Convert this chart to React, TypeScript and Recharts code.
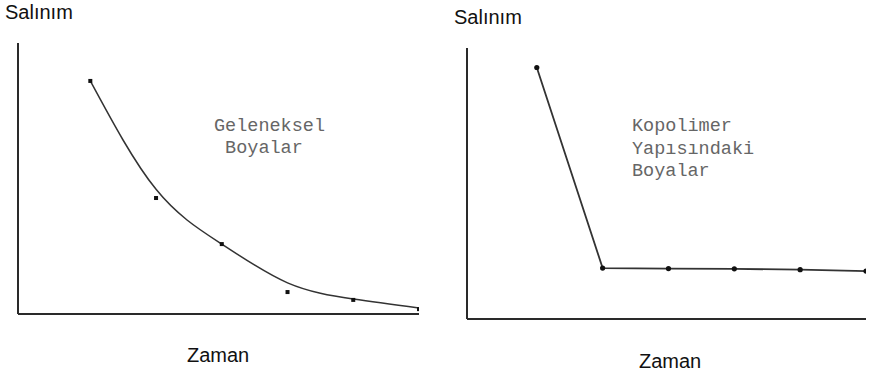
import React from 'react';
import { ComposedChart, Line, Scatter, XAxis, YAxis } from 'recharts';

// left panel: measured points and the hand-drawn fitted curve
const geleneksel_points = [
  { t: 1, v: 86 },
  { t: 2, v: 42.8 },
  { t: 3, v: 25.8 },
  { t: 4, v: 8.1 },
  { t: 5, v: 5.2 },
  { t: 6, v: 1.8 },
];
const geleneksel_curve = [
  { t: 1, v: 86 },
  { t: 2, v: 46 },
  { t: 3, v: 25.8 },
  { t: 4, v: 11.5 },
  { t: 5, v: 5.5 },
  { t: 6, v: 2.2 },
];

// right panel: copolymer dyes, sharp drop then plateau
const kopolimer_points = [
  { t: 1, v: 92.8 },
  { t: 2, v: 18.8 },
  { t: 3, v: 18.6 },
  { t: 4, v: 18.5 },
  { t: 5, v: 18.2 },
  { t: 6, v: 17.7 },
];

const yLabel = 'Salınım';
const xLabel = 'Zaman';
const leftNote = 'Geleneksel\n Boyalar';
const rightNote = 'Kopolimer\nYapısındaki\nBoyalar';

const ink = '#2a2a2a';
const sans = '"Liberation Sans", Arial, sans-serif';
const mono = '"Liberation Mono", "Courier New", monospace';

const SquareDot = (props: any) => {
  const { cx, cy } = props;
  if (cx == null || cy == null) return null;
  return <rect x={cx - 2} y={cy - 2} width={4} height={4} fill="#111" />;
};

const RoundDot = (props: any) => {
  const { cx, cy } = props;
  if (cx == null || cy == null) return null;
  return <circle cx={cx} cy={cy} r={2.6} fill="#111" />;
};

const axisLine = { stroke: ink, strokeWidth: 2 };

const txt = (left: number, top: number, size: number, family: string, color: string, lh: number): React.CSSProperties => ({
  position: 'absolute',
  left,
  top,
  fontSize: size,
  fontFamily: family,
  color,
  lineHeight: `${lh}px`,
  whiteSpace: 'pre',
});

export default function App() {
  return (
    <div style={{ position: 'absolute', left: 0, top: 0, width: 871, height: 376, background: '#fff', overflow: 'hidden' }}>
      <div style={{ position: 'absolute', left: 0, top: 0 }}>
        <ComposedChart width={440} height={376} margin={{ top: 43, right: 21, bottom: 61, left: 17 }}>
          <XAxis type="number" dataKey="t" domain={[-0.1, 6]} height={1} tick={false} tickLine={false} axisLine={axisLine} allowDataOverflow />
          <YAxis type="number" dataKey="v" domain={[0, 100]} width={1} tick={false} tickLine={false} axisLine={axisLine} allowDataOverflow />
          <Line data={geleneksel_curve} dataKey="v" type="natural" stroke="#333" strokeWidth={1.5} dot={false} isAnimationActive={false} />
          <Scatter data={geleneksel_points} dataKey="v" shape={<SquareDot />} isAnimationActive={false} />
        </ComposedChart>
      </div>
      <div style={{ position: 'absolute', left: 440, top: 0 }}>
        <ComposedChart width={431} height={376} margin={{ top: 48, right: 5, bottom: 56, left: 26 }}>
          <XAxis type="number" dataKey="t" domain={[-0.06, 6]} height={1} tick={false} tickLine={false} axisLine={axisLine} allowDataOverflow />
          <YAxis type="number" dataKey="v" domain={[0, 100]} width={1} tick={false} tickLine={false} axisLine={axisLine} allowDataOverflow />
          <Line data={kopolimer_points} dataKey="v" type="linear" stroke="#333" strokeWidth={1.8} dot={<RoundDot />} isAnimationActive={false} />
        </ComposedChart>
      </div>

      <div style={txt(5, 2, 20, sans, '#111', 20)}>{yLabel}</div>
      <div style={txt(454, 7, 20, sans, '#111', 20)}>{yLabel}</div>
      <div style={txt(187, 345, 20, sans, '#111', 20)}>{xLabel}</div>
      <div style={txt(639, 351, 20, sans, '#111', 20)}>{xLabel}</div>

      <div style={txt(214, 116, 18.5, mono, '#666', 22)}>{leftNote}</div>
      <div style={txt(632, 116, 18.5, mono, '#666', 22.5)}>{rightNote}</div>
    </div>
  );
}
